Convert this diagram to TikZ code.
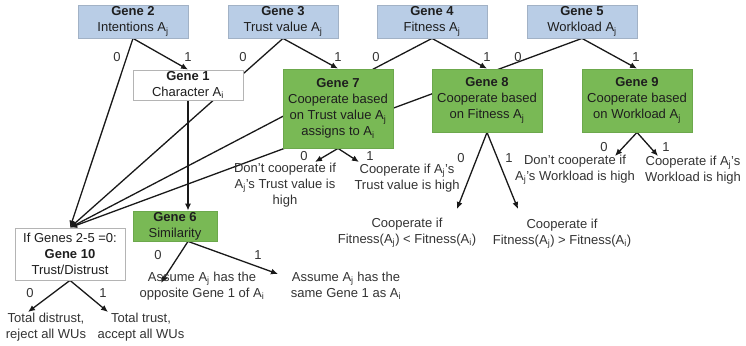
\documentclass[tikz,border=0pt]{standalone}
\usepackage{fontspec}
\setmainfont{Liberation Sans}
\usetikzlibrary{arrows.meta,backgrounds}

\definecolor{blueFill}{HTML}{B9CDE6}
\definecolor{blueEdge}{HTML}{A2B2C6}
\definecolor{greenFill}{HTML}{79B955}
\definecolor{greenEdge}{HTML}{6CA84C}
\definecolor{plainEdge}{HTML}{B4B4B4}
\definecolor{ink}{HTML}{1E1E1E}
\definecolor{leafInk}{HTML}{333333}

\newcommand{\Aj}{A\textsubscript{j}}
\newcommand{\Ai}{A\textsubscript{i}}

\tikzset{
  genebox/.style={draw, line width=0.8pt, align=center, inner sep=0pt,
    minimum width=110pt, text=ink, font=\fontsize{13}{16}\selectfont},
  bluebox/.style={genebox, fill=blueFill, draw=blueEdge, minimum height=33pt},
  greenbox/.style={genebox, fill=greenFill, draw=greenEdge},
  plainbox/.style={genebox, fill=white, draw=plainEdge},
  leaf/.style={align=center, inner sep=0pt, text=leafInk,
    font=\fontsize{13}{16}\selectfont},
  bit/.style={inner sep=0pt, text=leafInk, font=\fontsize{13}{16}\selectfont},
  link/.style={line width=1.3pt, draw=black!90},
  arr/.style={link, -{Latex[length=7pt,width=6pt]}}
}

\begin{document}
\begin{tikzpicture}[x=1pt,y=-1pt]
\useasboundingbox (0,0) rectangle (746,345);

% input genes
\node[bluebox] (g2) at (133,21.5) {\textbf{Gene 2}\\Intentions \Aj};
\node[bluebox] (g3) at (283,21.5) {\textbf{Gene 3}\\Trust value \Aj};
\node[bluebox] (g4) at (432,21.5) {\textbf{Gene 4}\\Fitness \Aj};
\node[bluebox] (g5) at (582,21.5) {\textbf{Gene 5}\\Workload \Aj};

% decision genes
\node[plainbox, minimum height=30pt] (g1) at (188,85) {\textbf{Gene 1}\\Character \Ai};
\node[greenbox, minimum height=79pt] (g7) at (338,108.5)
  {\textbf{Gene 7}\\Cooperate based\\on Trust value \Aj\\assigns to \Ai};
\node[greenbox, minimum height=63pt] (g8) at (487,100.5)
  {\textbf{Gene 8}\\Cooperate based\\on Fitness \Aj};
\node[greenbox, minimum height=63pt] (g9) at (637,100.5)
  {\textbf{Gene 9}\\Cooperate based\\on Workload \Aj};
\node[greenbox, minimum width=84pt, minimum height=30pt] (g6) at (175,226)
  {\textbf{Gene 6}\\Similarity};
\node[plainbox, minimum height=52pt] (g10) at (70,254)
  {If Genes 2-5 =0:\\\textbf{Gene 10}\\Trust/Distrust};

% outcomes
\node[leaf] (l10a) at (46,327) {Total distrust,\\reject all WUs};
\node[leaf] (l10b) at (141,327) {Total trust,\\accept all WUs};
\node[leaf] (l6a) at (202,286) {Assume \Aj{} has the\\opposite Gene 1 of \Ai};
\node[leaf] (l6b) at (346,286) {Assume \Aj{} has the\\same Gene 1 as \Ai};
\node[leaf] (l7a) at (285,185) {Don't cooperate if\\\Aj's Trust value is\\high};
\node[leaf] (l7b) at (407,178) {Cooperate if \Aj's\\Trust value is high};
\node[leaf] (l8a) at (407,233) {Cooperate if\\Fitness(\Aj) < Fitness(\Ai)};
\node[leaf] (l8b) at (562,234) {Cooperate if\\Fitness(\Aj) > Fitness(\Ai)};
\node[leaf] (l9a) at (575,170) {Don't cooperate if\\\Aj's Workload is high};
\node[leaf] (l9b) at (693,170) {Cooperate if \Aj's\\Workload is high};

% arrow tips at the outcomes
\coordinate (t10a) at (28,312);
\coordinate (t10b) at (108,312);
\coordinate (t6a) at (161,283);
\coordinate (t6b) at (278,274);
\coordinate (t7a) at (315,162);
\coordinate (t7b) at (359,162);
\coordinate (t8a) at (457,209);
\coordinate (t8b) at (518,209);
\coordinate (t9a) at (615,156);
\coordinate (t9b) at (658,156);

% branch values
\node[bit] at (117,57) {0};  \node[bit] at (188,57) {1};
\node[bit] at (243,57) {0};  \node[bit] at (338,57) {1};
\node[bit] at (376,57) {0};  \node[bit] at (487,57) {1};
\node[bit] at (518,57) {0};  \node[bit] at (636,57) {1};
\node[bit] at (304,156) {0}; \node[bit] at (370,156) {1};
\node[bit] at (461,158) {0}; \node[bit] at (509,158) {1};
\node[bit] at (604,147) {0}; \node[bit] at (666,147) {1};
\node[bit] at (158,255) {0}; \node[bit] at (258,255) {1};
\node[bit] at (30,293) {0};  \node[bit] at (103,293) {1};

\begin{scope}[on background layer]
  % value 0 of genes 2-5 falls through to gene 10
  \draw[arr] (g2.south) -- (g10.north);
  \draw[arr] (g3.south) -- (g10.north);
  \draw[arr] (g4.south) -- (g10.north);
  \draw[arr] (g5.south) -- (g10.north);
  % value 1
  \draw[arr] (g2.south) -- (g1.north);
  \draw[arr] (g3.south) -- (g7.north);
  \draw[arr] (g4.south) -- (g8.north);
  \draw[arr] (g5.south) -- (g9.north);
  \draw[arr] (g1.south) -- (g1.south |- g6.north);
  % outcomes
  \draw[arr] (g7.south) -- (t7a);
  \draw[arr] (g7.south) -- (t7b);
  \draw[arr] (g8.south) -- (t8a);
  \draw[arr] (g8.south) -- (t8b);
  \draw[arr] (g9.south) -- (t9a);
  \draw[arr] (g9.south) -- (t9b);
  \draw[arr] (g1.south |- g6.south) -- (t6a);
  \draw[arr] (g1.south |- g6.south) -- (t6b);
  \draw[arr] (g10.south) -- (t10a);
  \draw[arr] (g10.south) -- (t10b);
\end{scope}
\end{tikzpicture}
\end{document}
